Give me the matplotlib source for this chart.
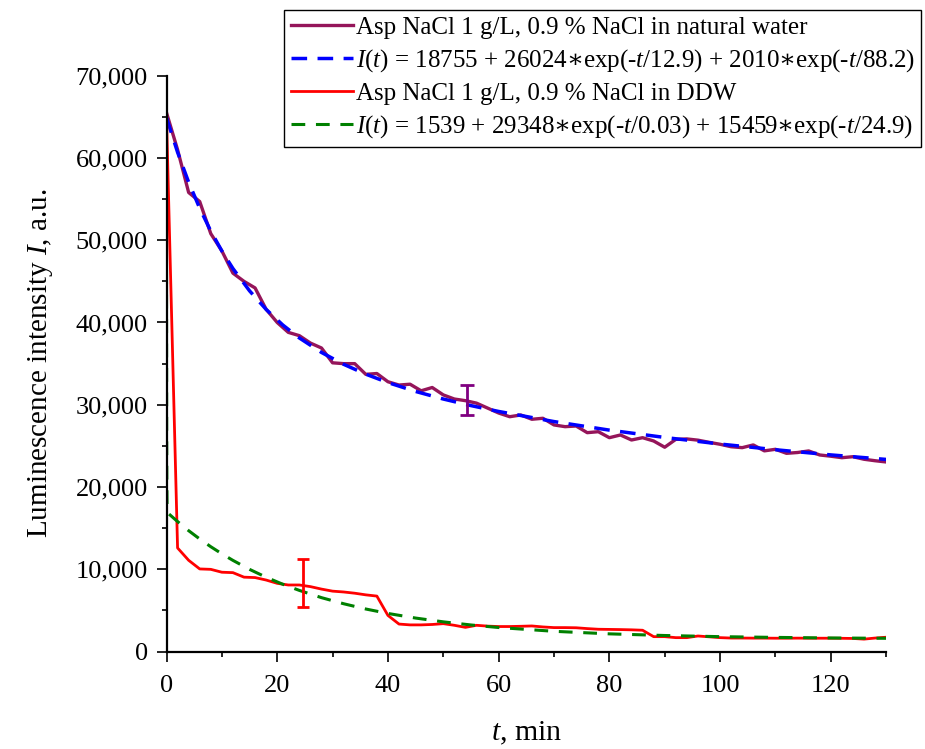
import matplotlib
matplotlib.use('Agg')
import matplotlib.pyplot as plt
from matplotlib.ticker import MultipleLocator, FuncFormatter

plt.rcParams['font.family'] = ['Liberation Serif', 'DejaVu Serif']
plt.rcParams['mathtext.fontset'] = 'custom'
plt.rcParams['mathtext.rm'] = 'Liberation Serif'
plt.rcParams['mathtext.it'] = 'Liberation Serif:italic'
plt.rcParams['mathtext.sf'] = 'DejaVu Serif'

# time axis of the measured curves, min
t = list(range(0, 131, 2))

natural = [65500, 61000, 55800, 54700, 50800, 48700, 46000, 45000, 44200, 41600,
           40000, 38800, 38400, 37500, 36900, 35100, 35000, 35000, 33700, 33800,
           32800, 32400, 32500, 31700, 32100, 31200, 30700, 30500, 30200, 29600,
           29000, 28550, 28760, 28240, 28360, 27550, 27340, 27420, 26610, 26730,
           26000, 26330, 25720, 26000, 25600, 24840, 25800, 25850, 25700, 25440,
           25200, 24900, 24790, 25120, 24400, 24590, 24100, 24200, 24390, 23900,
           23750, 23570, 23690, 23380, 23200, 23050]

ddw = [65000, 12600, 11100, 10050, 10000, 9650, 9600, 9050, 9000, 8700,
       8300, 8100, 8100, 7900, 7600, 7350, 7250, 7100, 6900, 6750,
       4400, 3350, 3250, 3250, 3300, 3400, 3200, 2950, 3200, 3100,
       3050, 3050, 3080, 3120, 3000, 2920, 2920, 2900, 2800, 2720,
       2700, 2680, 2650, 2600, 1820, 1820, 1700, 1700, 1900, 1800,
       1700, 1650, 1650, 1640, 1640, 1630, 1630, 1640, 1630, 1630,
       1630, 1620, 1600, 1520, 1650, 1750]

fit1_t = [0, 2, 4, 6, 8, 10, 12, 15, 18, 21, 24, 28, 32, 36, 40, 45, 50, 55,
          60, 70, 80, 90, 100, 110, 120, 130]
fit1 = [64880, 60690, 57050, 53880, 51110, 48690, 46560, 43850, 41590, 39700,
        38120, 36360, 34920, 33720, 32700, 31620, 30700, 29900, 29190, 27960,
        26920, 26030, 25230, 24540, 23910, 23360]

fit2_t = [0, 0.03, 0.06, 0.1, 0.15, 0.3, 2, 4, 6, 8, 10, 12, 15, 18, 21, 24, 28,
          32, 36, 40, 45, 50, 55, 60, 70, 80, 90, 100, 110, 120, 130]
fit2 = [46350, 27780, 20930, 17980, 17100, 16810, 15810, 14700, 13690, 12750,
        11890, 11090, 10000, 9040, 8190, 7440, 6560, 5820, 5180, 4640, 4080,
        3620, 3240, 2930, 2470, 2160, 1960, 1820, 1730, 1660, 1620]

# error bars: (t, value, error)
err_natural = (54.3, 30600, 1800)
err_ddw = (24.6, 8300, 2900)

star = r'$\mathsf{\ast}$'
labels = ['Asp NaCl 1 g/L, 0.9 % NaCl in natural water',
          r'$I$($t$) = 18755 + 26024' + star + r'exp(-$t$/12.9) + 2010' + star + r'exp(-$t$/88.2)',
          'Asp NaCl 1 g/L, 0.9 % NaCl in DDW',
          r'$I$($t$) = 1539 + 29348' + star + r'exp(-$t$/0.03) + 15459' + star + r'exp(-$t$/24.9)']

fig = plt.figure(figsize=(9.25, 7.49), dpi=100)
ax = fig.add_axes([0.180, 0.130, 0.778, 0.769])

ax.plot(t, natural, color='#95155A', lw=2.4, label=labels[0])
ax.plot(fit1_t, fit1, color='#0000FF', lw=2.5, dashes=(4.5, 3), label=labels[1])
ax.plot(t, ddw, color='#FF0000', lw=2.0, label=labels[2])
ax.plot(fit2_t, fit2, color='#008000', lw=2.2, dashes=(4.5, 3.5), label=labels[3])

ax.errorbar([err_natural[0]], [err_natural[1]], yerr=[err_natural[2]], fmt='none',
            ecolor='#800080', elinewidth=2, capsize=4.7, capthick=2)
ax.errorbar([err_ddw[0]], [err_ddw[1]], yerr=[err_ddw[2]], fmt='none',
            ecolor='#FF0000', elinewidth=2, capsize=4.5, capthick=2)

ax.set_xlim(0, 130)
ax.set_ylim(0, 70000)
ax.xaxis.set_major_locator(MultipleLocator(20))
ax.xaxis.set_minor_locator(MultipleLocator(10))
ax.yaxis.set_major_locator(MultipleLocator(10000))
ax.yaxis.set_minor_locator(MultipleLocator(5000))
ax.yaxis.set_major_formatter(FuncFormatter(lambda v, p: f'{v:,.0f}'))

for s in ['top', 'right']:
    ax.spines[s].set_visible(False)
for s in ['left', 'bottom']:
    ax.spines[s].set_linewidth(1.6)

ax.tick_params(which='major', direction='out', length=7.5, width=1.2, labelsize=19, pad=6)
ax.tick_params(axis='x', which='major', pad=9)
ax.tick_params(which='minor', direction='out', length=3.8, width=1.2)

ax.set_xlabel(r'$t$, min', fontsize=21.5)
ax.set_ylabel(r'Luminescence intensity $I$, a.u.', fontsize=21)
ax.xaxis.set_label_coords(0.5, -0.118)
ax.yaxis.set_label_coords(-0.155, 0.5)

leg = ax.legend(loc='upper right', bbox_to_anchor=(921 / 925, 1 - 10 / 749),
                bbox_transform=fig.transFigure, fontsize=18, frameon=True,
                fancybox=False, framealpha=1, edgecolor='black', borderaxespad=0,
                borderpad=0.25, handlelength=2.5, handletextpad=0.1, labelspacing=0.34)
leg.get_frame().set_linewidth(1.0)

fig.savefig('out.png', dpi=100)
